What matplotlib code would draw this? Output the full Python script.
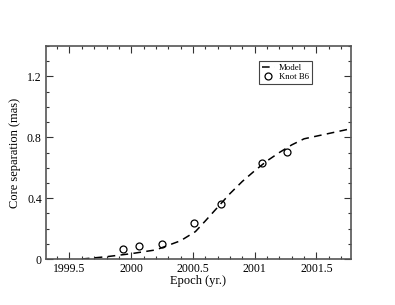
import matplotlib
matplotlib.use('Agg')
import matplotlib.pyplot as plt
from matplotlib.ticker import MultipleLocator

plt.rcParams['font.family'] = ['Liberation Serif', 'DejaVu Serif']

# model curve
model_epoch = [1999.6, 1999.8, 2000.0, 2000.2, 2000.4, 2000.52, 2000.6, 2000.7,
               2000.8, 2000.9, 2001.0, 2001.1, 2001.2, 2001.3, 2001.4, 2001.6, 2001.8]
model_sep = [0.0, 0.015, 0.035, 0.06, 0.12, 0.18, 0.25, 0.34,
             0.43, 0.51, 0.58, 0.645, 0.70, 0.75, 0.79, 0.825, 0.86]

# knot B6 measurements
knot_epoch = [1999.93, 2000.06, 2000.25, 2000.51, 2000.73, 2001.06, 2001.26]
knot_sep = [0.064, 0.085, 0.10, 0.236, 0.359, 0.634, 0.704]

xticks = [1999.5, 2000, 2000.5, 2001, 2001.5]
xticklabels = ['1999.5', '2000', '2000.5', '2001', '2001.5']
yticks = [0, 0.4, 0.8, 1.2]
yticklabels = ['0', '0.4', '0.8', '1.2']

fig = plt.figure(figsize=(3.95, 3.05), dpi=100)
ax = fig.add_axes([46/395, 46/305, 305/395, 213/305])

ax.plot(model_epoch, model_sep, color='black', lw=1.1, dashes=(5, 3.5), label='Model')
ax.plot(knot_epoch, knot_sep, 'o', mfc='none', mec='black', mew=0.9, ms=5, label='Knot B6')

ax.set_xlim(1999.31, 2001.78)
ax.set_ylim(0, 1.4)
ax.set_xticks(xticks)
ax.set_xticklabels(xticklabels)
ax.set_yticks(yticks)
ax.set_yticklabels(yticklabels)
ax.xaxis.set_minor_locator(MultipleLocator(0.1))
ax.yaxis.set_minor_locator(MultipleLocator(0.1))
ax.tick_params(which='both', direction='in', top=True, right=True, labelsize=8.5, pad=3, color='#333333')
ax.tick_params(which='major', length=5, width=0.8)
ax.tick_params(which='minor', length=2.5, width=0.8)
for s in ax.spines.values():
    s.set_color('#555555')
    s.set_linewidth(1.2)

ax.set_xlabel('Epoch (yr.)', fontsize=9, labelpad=0)
ax.set_ylabel('Core separation (mas)', fontsize=9, labelpad=4)

leg = ax.legend(loc='upper left', bbox_to_anchor=(213/305, 1 - 15/213), fontsize=6.3,
                fancybox=False, edgecolor='#444444', framealpha=1, handlelength=1.5,
                handletextpad=0.5, borderpad=0.3, labelspacing=0.15, borderaxespad=0)
leg.get_frame().set_linewidth(0.8)

fig.savefig('out.png', dpi=100)
